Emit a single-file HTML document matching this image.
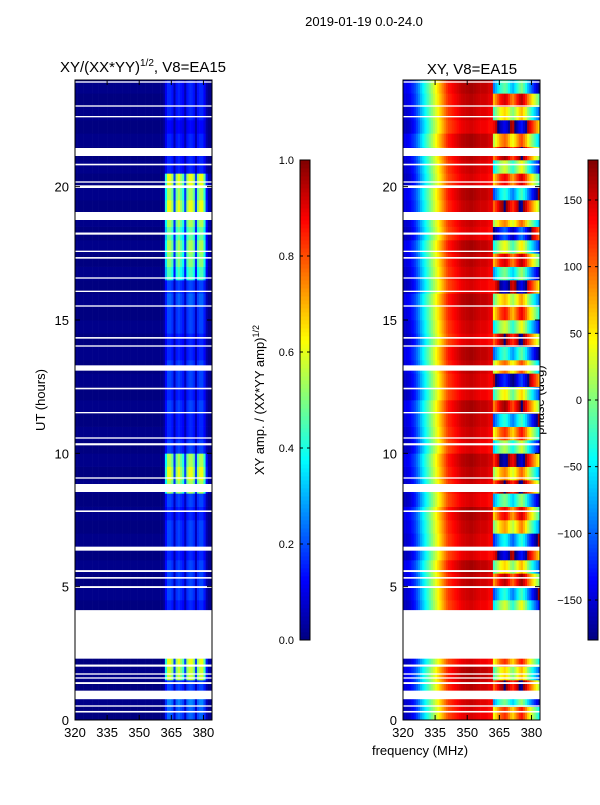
<!DOCTYPE html>
<html><head><meta charset="utf-8"><style>
body{margin:0;background:#fff;font-family:"Liberation Sans",sans-serif;}
svg text{font-family:"Liberation Sans",sans-serif;fill:#000}
</style></head><body>
<svg id="fig" width="600" height="800" xmlns="http://www.w3.org/2000/svg">
<rect width="600" height="800" fill="#fff"/>
<text x="364" y="26" font-size="13" text-anchor="middle">2019-01-19 0.0-24.0</text>
<text x="143" y="72" font-size="15" text-anchor="middle">XY/(XX*YY)<tspan font-size="10" dy="-6">1/2</tspan><tspan dy="6">, V8=EA15</tspan></text>
<text x="472" y="74" font-size="15" text-anchor="middle">XY, V8=EA15</text>
<text x="420" y="755" font-size="13" text-anchor="middle">frequency (MHz)</text>
<text transform="translate(45,400) rotate(-90)" font-size="13" text-anchor="middle">UT (hours)</text>
<text transform="translate(264,400) rotate(-90)" font-size="13" text-anchor="middle">XY amp. / (XX*YY amp)<tspan font-size="9" dy="-5">1/2</tspan></text>
<text transform="translate(544,400) rotate(-90)" font-size="13" text-anchor="middle">phase (deg)</text>
<g id="left"></g>
<g id="right"></g>
<g id="cb1"></g>
<g id="cb2"></g>
</svg>
<script>
const freqStart = 320, freqStep = 1;
const ampBase = [0.0,0.0,0.0,0.0,0.0,0.0,0.0,0.0,0.0,0.0,0.0,0.0,0.0,0.0,0.0,0.0,0.0,0.0,0.0,0.0,0.0,0.0,0.0,0.0,0.0,0.0,0.0,0.0,0.0,0.0,0.0,0.0,0.0,0.0,0.0,0.0,0.0,0.0,0.0,0.0,0.0,0.02,
 0.22,0.32,0.32,0.28,0.1, 0.28,0.32,0.28,0.24,0.1, 0.28,0.32,0.32,0.28,0.1, 0.28,0.32,0.32,0.24,0.08, 0.02,0.02];
const phaseBase = [-150,-150,-145,-140,-130,-120,-105,
 -90,-70,-55,-40,-25,-10,5,20,35,
 50,65,80,95,110,120,125,130,135,
 140,145,150,152,155,155,158,158,155,152,150,148,148,148,145,140,140,
 40,60,80,100,110,120,110,90,70,60,80,100,120,130,110,90,60,40,20,0,-20,-40];
// per half-hour gain of the bright high-frequency band, and phase shift of that band
const gainHalfHour = [0.7,0.8,0.6,1.8,1.9,0.6,0.6,0.6,0.5,0.6,0.6,0.6,0.5,0.6,0.6,0.5,0.6,1.7,1.9,1.7,0.6,0.5,0.5,0.6,0.5,0.6,0.6,0.5,0.5,0.6,0.6,0.7,0.6,1.4,1.6,1.7,1.5,1.7,1.9,1.7,1.9,0.5,0.5,0.5,0.4,0.5,0.5,0.5];
const phaseShiftHalfHour = [0,-120,60,-60,0,0,0,0,-90,-150,40,-60,100,-160,-40,20,-120,60,-30,80,-100,0,-150,50,-70,120,-20,-140,60,-90,10,-50,90,-120,30,-80,140,-30,60,-150,20,-90,50,-20,100,-60,30,-130];
const gaps = [[0.28,0.34],[0.5,0.55],[0.78,1.1],[1.35,1.42],[1.55,1.6],[1.7,1.75],[2.0,2.08],[2.3,4.12],[4.95,5.02],[5.3,5.36],[5.55,5.62],[6.35,6.5],[7.8,7.86],[8.55,8.85],[9.05,9.1],[10.3,10.38],[10.55,10.6],[11.5,11.55],[12.4,12.46],[13.1,13.3],[14.0,14.05],[14.3,14.36],[15.5,15.55],[16.05,16.1],[16.55,16.6],[17.3,17.36],[17.55,17.6],[18.2,18.28],[18.75,19.05],[19.95,20.05],[20.15,20.2],[20.8,20.86],[21.15,21.45],[22.6,22.65],[23.0,23.05],[23.9,23.95]];
const yTicks = [0,5,10,15,20];
const xTicks = [320,335,350,365,380];
const ampTicks = [0.0,0.2,0.4,0.6,0.8,1.0];
const phaseTicks = [-150,-100,-50,0,50,100,150];

const NS="http://www.w3.org/2000/svg";
function jet(v){v=Math.max(0,Math.min(1,v));const c=x=>Math.round(255*Math.max(0,Math.min(1,1.5-Math.abs(4*v-x))));return `rgb(${c(3)},${c(2)},${c(1)})`;}
function mk(p,tag,a){const e=document.createElementNS(NS,tag);for(const k in a)e.setAttribute(k,a[k]);p.appendChild(e);return e;}
const yTop=80,yBot=720,tMax=24;
const yS=t=>yBot-(t/tMax)*(yBot-yTop);
function panel(gid,x0,mode){
  const g=document.getElementById(gid);
  const w=137, xS=f=>x0+(f-320)/(384-320)*w;
  for(let h=0;h<gainHalfHour.length;h++){
    for(let i=0;i<ampBase.length;i++){
      const f=freqStart+i*freqStep; let col;
      if(mode==='amp'){ const v=i>=42?ampBase[i]*gainHalfHour[h]:ampBase[i]+0.01*(h%2); col=jet(v);}
      else { let p=phaseBase[i]+(i>=42?phaseShiftHalfHour[h]:((h%4)-1.5)*6); p=((p+180)%360+360)%360-180; col=jet((p+180)/360);}
      const r=mk(g,'rect',{x:xS(f).toFixed(2),y:yS(h*0.5+0.5).toFixed(2),width:(xS(f+freqStep)-xS(f)+0.3).toFixed(2),height:(yS(h*0.5)-yS(h*0.5+0.5)+0.3).toFixed(2),fill:col});
      
      
    }
  }
  gaps.forEach(gp=>{const r=mk(g,'rect',{x:x0,y:yS(gp[1]),width:w,height:yS(gp[0])-yS(gp[1]),fill:'#fff'});
    
    });
  mk(g,'rect',{x:x0,y:yTop,width:w,height:yBot-yTop,fill:'none',stroke:'#000','stroke-width':1});
  yTicks.forEach(t=>{const y=yS(t);mk(g,'line',{x1:x0,x2:x0+5,y1:y,y2:y,stroke:'#000'});mk(g,'line',{x1:x0+w-5,x2:x0+w,y1:y,y2:y,stroke:'#000'});
    const tx=mk(g,'text',{x:x0-6,y:y+5,'font-size':13,'text-anchor':'end'});tx.textContent=t;
    
    });
  xTicks.forEach(f=>{const x=xS(f);mk(g,'line',{x1:x,x2:x,y1:yBot,y2:yBot-5,stroke:'#000'});mk(g,'line',{x1:x,x2:x,y1:yTop,y2:yTop+5,stroke:'#000'});
    const tx=mk(g,'text',{x:x,y:yBot+17,'font-size':13,'text-anchor':'middle'});tx.textContent=f;
    
    });
}
panel('left',75,'amp');
panel('right',403,'phase');
function cbar(gid,x0,lo,hi,ticks,fmt){
  const g=document.getElementById(gid), top=160, bot=640, n=120;
  for(let k=0;k<n;k++){const r=mk(g,'rect',{x:x0,y:bot-(k+1)*(bot-top)/n,width:10,height:(bot-top)/n+0.4,fill:jet((k+0.5)/n)});
    
    }
  mk(g,'rect',{x:x0,y:top,width:10,height:bot-top,fill:'none',stroke:'#000'});
  ticks.forEach(t=>{const y=bot-(t-lo)/(hi-lo)*(bot-top);mk(g,'line',{x1:x0,x2:x0+3,y1:y,y2:y,stroke:'#000'});mk(g,'line',{x1:x0+7,x2:x0+10,y1:y,y2:y,stroke:'#000'});
    const tx=mk(g,'text',{x:x0-6,y:y+4,'font-size':11,'text-anchor':'end'});tx.textContent=fmt(t);
    
    });
}
cbar('cb1',300,0,1,ampTicks,t=>t.toFixed(1));
cbar('cb2',588,-180,180,phaseTicks,t=>t<0?'\u2212'+(-t):String(t));
</script>
</body></html>
